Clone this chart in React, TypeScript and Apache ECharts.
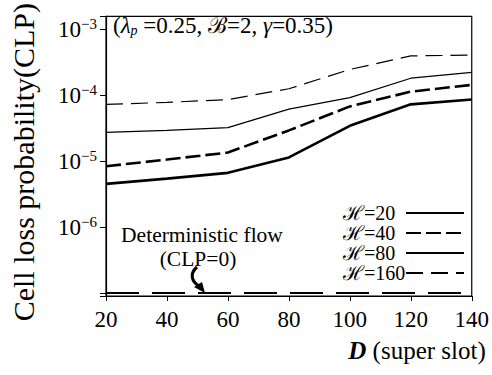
import React, { useEffect, useRef } from 'react';
import * as echarts from 'echarts';

const D_VALUES = [20, 40, 60, 80, 100, 120, 140];
const SERIES_NAMES = ['ℋ=20', 'ℋ=40', 'ℋ=80', 'ℋ=160'];
const CLP_H20 = [4.5e-6, 5.4e-6, 6.6e-6, 1.13e-5, 3.4e-5, 7.2e-5, 8.5e-5];
const CLP_H40 = [8.3e-6, 1.05e-5, 1.34e-5, 2.9e-5, 6.7e-5, 1.12e-4, 1.42e-4];
const CLP_H80 = [2.7e-5, 2.9e-5, 3.2e-5, 6.1e-5, 9.1e-5, 1.79e-4, 2.19e-4];
const CLP_H160 = [7.2e-5, 7.7e-5, 8.5e-5, 1.24e-4, 2.43e-4, 3.9e-4, 4.0e-4];
const CLP_DETERMINISTIC = [1e-7, 1e-7, 1e-7, 1e-7, 1e-7, 1e-7, 1e-7];
const Y_TICK_EXPONENTS = [-3, -4, -5, -6];
const X_TICKS = [20, 40, 60, 80, 100, 120, 140];

const FONT = "'Liberation Serif', serif";

function pairs(vals: number[]) {
  return D_VALUES.map((d, i) => [d, vals[i]]);
}

export default function App() {
  const ref = useRef<HTMLDivElement>(null);
  useEffect(() => {
    document.body.style.margin = '0';
    const chart = echarts.init(ref.current!, null, { renderer: 'svg' });
    const styles = [
      { width: 2.6, type: 'solid' as any },
      { width: 2.6, type: [15, 5] as any },
      { width: 1.2, type: 'solid' as any },
      { width: 1.2, type: [17, 8] as any },
    ];
    const seriesVals = [CLP_H20, CLP_H40, CLP_H80, CLP_H160];
    const series: any[] = seriesVals.map((vals, i) => ({
      name: SERIES_NAMES[i],
      type: 'line',
      data: pairs(vals),
      symbol: 'none',
      lineStyle: { color: '#000', width: styles[i].width, type: styles[i].type },
      itemStyle: { color: '#000' },
    }));
    series.push({
      name: 'Deterministic flow',
      type: 'line',
      data: pairs(CLP_DETERMINISTIC),
      symbol: 'none',
      lineStyle: { color: '#000', width: 2, type: [33, 13] },
      itemStyle: { color: '#000' },
    });
    chart.setOption({
      animation: false,
      backgroundColor: '#fff',
      textStyle: { fontFamily: FONT },
      grid: {
        left: 102,
        right: 18,
        top: 7,
        bottom: 79,
        show: true,
        borderColor: '#000',
        borderWidth: 1.2,
        backgroundColor: 'transparent',
      },
      legend: {
        data: SERIES_NAMES,
        orient: 'vertical',
        left: 343,
        top: 203,
        align: 'right',
        itemWidth: 58,
        itemHeight: 14,
        itemGap: 0,
        padding: 0,
        itemStyle: { opacity: 0 },
        formatter: (name: string) => `{t|${name}}`,
        textStyle: {
          fontFamily: FONT,
          fontSize: 20,
          color: '#000',
          rich: { t: { fontFamily: FONT, fontSize: 20, color: '#000', width: 58, align: 'left' } },
        },
      },
      xAxis: {
        type: 'value',
        min: 20,
        max: 140,
        interval: 20,
        name: '{i|D} (super slot)',
        nameLocation: 'end',
        nameGap: 14,
        nameTextStyle: {
          fontFamily: FONT,
          fontSize: 25,
          color: '#000',
          align: 'right',
          verticalAlign: 'top',
          padding: [42, 0, 0, 0],
          rich: { i: { fontFamily: FONT, fontSize: 25, fontStyle: 'italic', fontWeight: 'bold', color: '#000' } },
        },
        axisLine: { lineStyle: { color: '#000', width: 1.2 } },
        axisTick: { length: 5, lineStyle: { color: '#000' } },
        axisLabel: {
          margin: 12,
          fontFamily: FONT,
          fontSize: 23,
          color: '#000',
          formatter: (v: number) => (X_TICKS.includes(v) ? String(v) : ''),
        },
        splitLine: { show: false },
      },
      yAxis: {
        type: 'log',
        logBase: 10,
        min: 9e-8,
        max: 1.55e-3,
        name: 'Cell loss probability(CLP)',
        nameLocation: 'middle',
        nameGap: 68,
        nameTextStyle: { fontFamily: FONT, fontSize: 30, color: '#000', padding: [0, 12, 0, 0] },
        axisLine: { lineStyle: { color: '#000', width: 1.2 } },
        axisTick: { length: 6, lineStyle: { color: '#000' } },
        axisLabel: {
          margin: 9,
          padding: [2, 0, 0, 0],
          fontFamily: FONT,
          color: '#000',
          formatter: (v: number) => {
            const l = Math.log10(v);
            const e = Math.round(l);
            if (Math.abs(l - e) > 0.01 || !Y_TICK_EXPONENTS.includes(e)) return '';
            return `{b|10}{s|−${-e}}`;
          },
          rich: {
            b: { fontFamily: FONT, fontSize: 23, color: '#000' },
            s: { fontFamily: FONT, fontSize: 15, color: '#000', padding: [0, 0, 12, 0] },
          },
        },
        splitLine: { show: false },
      },
      series,
      graphic: [
        {
          type: 'text',
          left: 113,
          top: 14,
          style: {
            text: '({i|λ}{sub|p} =0.25, ℬ=2, {i|γ}=0.35)',
            fontFamily: FONT,
            fontSize: 23,
            fill: '#000',
            rich: {
              i: { fontFamily: FONT, fontSize: 23, fontStyle: 'italic', fill: '#000' },
              sub: { fontFamily: FONT, fontSize: 14, fontStyle: 'italic', fill: '#000', padding: [10, 0, 0, 0] },
            },
          },
        },
        {
          type: 'text',
          x: 202,
          y: 235,
          style: {
            text: 'Deterministic flow',
            fontFamily: FONT,
            fontSize: 21.5,
            fill: '#000',
            align: 'center',
            verticalAlign: 'middle',
          },
        },
        {
          type: 'text',
          x: 198,
          y: 259,
          style: {
            text: '(CLP=0)',
            fontFamily: FONT,
            fontSize: 21.5,
            fill: '#000',
            align: 'center',
            verticalAlign: 'middle',
          },
        },
        {
          type: 'bezierCurve',
          shape: { x1: 197, y1: 267, cpx1: 189, cpy1: 274, cpx2: 192, cpy2: 282, x2: 199, y2: 286 },
          style: { stroke: '#000', lineWidth: 3, fill: null },
        },
        {
          type: 'polygon',
          shape: { points: [[194, 287], [202, 282], [205, 293]] },
          style: { fill: '#000' },
        },
      ],
    });
    return () => chart.dispose();
  }, []);
  return (
    <div
      ref={ref}
      style={{ width: 492, height: 375, position: 'absolute', left: 0, top: 0 }}
    />
  );
}
